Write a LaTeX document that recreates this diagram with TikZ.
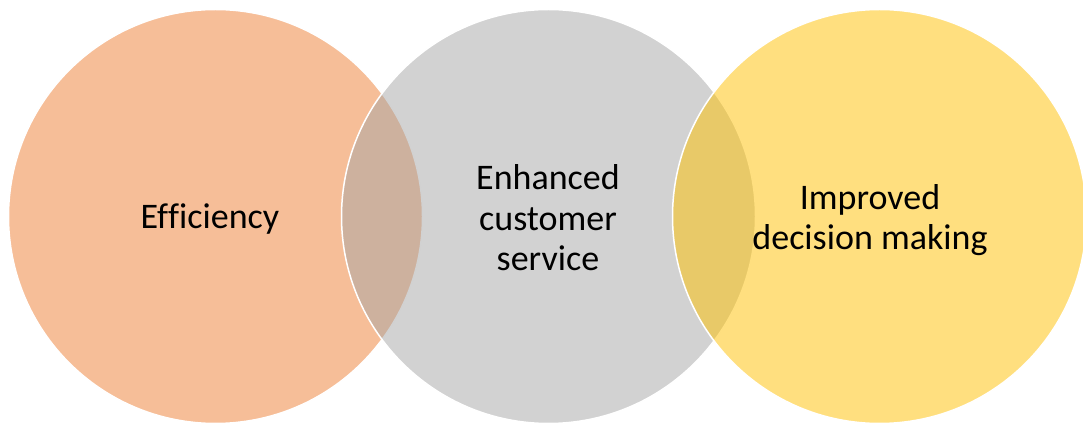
\documentclass[tikz,border=0pt]{standalone}
\usepackage{fontspec}
\setmainfont{Carlito}[Ligatures=NoCommon]
\usepackage{xcolor}
\usepackage{tikz}
\usetikzlibrary{positioning}
\definecolor{vennorange}{RGB}{237,125,49}
\definecolor{venngray}{RGB}{165,165,165}
\definecolor{vennyellow}{RGB}{255,192,0}
\tikzset{
    venn/.style={circle, draw=white, line width=1.5pt, fill opacity=0.5, draw opacity=1, minimum size=414pt, inner sep=0pt},
    vtext/.style={text centered, align=center, font=\fontsize{36}{40.5}\selectfont, text=black}
}

\begin{document}
\begin{tikzpicture}[x=1pt, y=1pt]
    \useasboundingbox (0,0) rectangle (1083,423);
    % Circles
    \node[venn, fill=vennorange] (eff) at (215.5,206.5) {};
    \node[venn, fill=venngray] (cust) at (548.5,206.5) {};
    \node[venn, fill=vennyellow] (dec) at (879.5,206.5) {};

    % Labels
    \node[vtext] (efflbl) at (210,204) {Ef\kern0pt f\kern0pt iciency};
    \node[vtext] (custlbl) at (548,205) {Enhanced\\customer\\service};
    \node[vtext] (declbl) at (870,203) {Improved\\decision making};
\end{tikzpicture}
\end{document}
